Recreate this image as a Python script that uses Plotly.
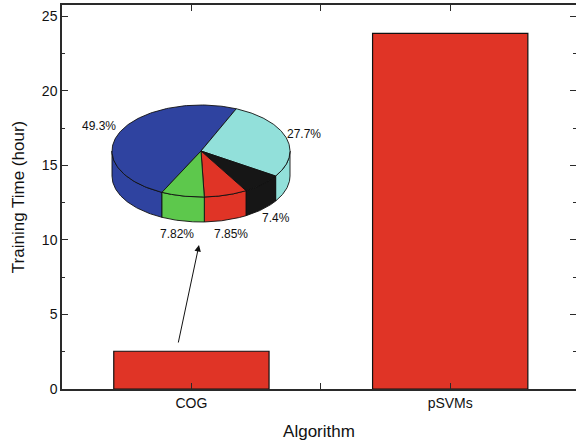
import numpy as np
import plotly.graph_objects as go

# Bar data
categories = ["COG", "pSVMs"]
training_hours = [2.53, 23.85]

# Breakdown of the COG training time (inset pie)
pie_values = [49.3, 27.7, 7.4, 7.85, 7.82]
pie_labels = ["49.3%", "27.7%", "7.4%", "7.85%", "7.82%"]
pie_colors = ["#2f43a0", "#92e0da", "#161616", "#e03426", "#5dc84c"]

BAR_RED = "#e03426"
AXIS_COL = "#2a2a2a"
FONT = "Liberation Sans, Arial, sans-serif"

W, H = 576, 445
ML, MR, MT, MB = 62, 0, 5, 56
Y_RANGE = [0, 25.75]

fig = go.Figure()

fig.add_trace(go.Bar(
    x=list(range(len(categories))), y=training_hours, width=0.6,
    marker=dict(color=BAR_RED, line=dict(color="#111", width=1.2)),
    xaxis="x", yaxis="y", showlegend=False, hoverinfo="skip",
))

# invisible trace so the right-hand tick axis is rendered
fig.add_trace(go.Scatter(x=[0], y=[0], mode="markers", opacity=0, xaxis="x", yaxis="y3",
                         showlegend=False, hoverinfo="skip"))

# ---- 3D inset pie, drawn on a pixel-scaled overlay axis pair ----
cx, cy = 201.0, 151.0      # centre of the top face
ra, rb = 89.0, 46.0        # ellipse semi-axes
depth = 25.0
start_deg = 244.0          # first slice starts here and runs clockwise

total = sum(pie_values)
bounds = [start_deg]
for v in pie_values:
    bounds.append(bounds[-1] - 360.0 * v / total)


def ell(t_deg, dy=0.0):
    t = np.radians(t_deg)
    return cx + ra * np.cos(t), cy - rb * np.sin(t) + dy


edge = dict(color="#111", width=0.9)

# side walls (front half only: angles in [-180, 0] mod 360)
for i, v in enumerate(pie_values):
    a0, a1 = bounds[i], bounds[i + 1]   # a0 > a1
    for k in range(-2, 2):
        lo, hi = -180 + 360 * k, 0 + 360 * k
        s0, s1 = min(a0, hi), max(a1, lo)
        if s0 <= s1:
            continue
        ts = np.linspace(s0, s1, 60)
        xt, yt = ell(ts)
        xb, yb = ell(ts[::-1], depth)
        xs = np.concatenate([xt, xb, xt[:1]])
        ys = np.concatenate([yt, yb, yt[:1]])
        fig.add_trace(go.Scatter(
            x=xs, y=ys, mode="lines", fill="toself", fillcolor=pie_colors[i],
            line=edge, xaxis="x2", yaxis="y2", showlegend=False, hoverinfo="skip",
        ))

# top faces
for i, v in enumerate(pie_values):
    a0, a1 = bounds[i], bounds[i + 1]
    ts = np.linspace(a0, a1, 120)
    xa, ya = ell(ts)
    xs = np.concatenate([[cx], xa, [cx]])
    ys = np.concatenate([[cy], ya, [cy]])
    fig.add_trace(go.Scatter(
        x=xs, y=ys, mode="lines", fill="toself", fillcolor=pie_colors[i],
        line=edge, xaxis="x2", yaxis="y2", showlegend=False, hoverinfo="skip",
    ))

# percentage labels placed outside each slice
label_pos = [(99, 126), (304, 134), (276, 218), (231, 234), (177, 234)]
for (lx, ly), txt in zip(label_pos, pie_labels):
    fig.add_annotation(x=lx, y=ly, xref="x2", yref="y2", text=txt,
                       showarrow=False, font=dict(family=FONT, size=12, color="#111"))

# arrow from the COG bar up to the pie
fig.add_annotation(x=199, y=245, ax=178, ay=344, xref="x2", yref="y2",
                   axref="x2", ayref="y2", text="", showarrow=True,
                   arrowhead=2, arrowsize=1.3, arrowwidth=1, arrowcolor="#111")

tickfont = dict(family=FONT, size=14, color="#111")
fig.update_layout(
    width=W, height=H,
    margin=dict(l=ML, r=MR, t=MT, b=MB),
    paper_bgcolor="white", plot_bgcolor="white",
    font=dict(family=FONT, color="#111"),
    bargap=0.4,
    xaxis=dict(
        range=[-0.5, 1.486], tickvals=list(range(len(categories))), ticktext=categories,
        showgrid=False, zeroline=False, showline=True, linecolor=AXIS_COL, linewidth=1.5,
        mirror="allticks", ticks="inside", ticklen=6, tickwidth=1.2, tickcolor=AXIS_COL,
        minor=dict(tick0=0, dtick=0.5, ticks="inside", ticklen=3, tickwidth=1, tickcolor=AXIS_COL),
        tickfont=tickfont,
        title=dict(text="Algorithm", font=dict(family=FONT, size=17, color="#111"), standoff=16),
    ),
    yaxis=dict(
        range=Y_RANGE, dtick=5, tick0=0,
        showgrid=False, zeroline=False, showline=True, linecolor=AXIS_COL, linewidth=1.5,
        mirror=False, ticks="inside", ticklen=6, tickwidth=1.2, tickcolor=AXIS_COL,
        minor=dict(dtick=2.5, ticks="inside", ticklen=3, tickwidth=1, tickcolor=AXIS_COL),
        tickfont=tickfont,
        title=dict(text="Training Time (hour)", font=dict(family=FONT, size=17, color="#111"), standoff=13),
    ),
    # right-hand ticks only (the frame's right edge lies just outside the page)
    yaxis3=dict(
        range=Y_RANGE, dtick=5, tick0=0, overlaying="y", side="right",
        showgrid=False, zeroline=False, showline=False, showticklabels=False,
        ticks="inside", ticklen=6, tickwidth=1.2, tickcolor=AXIS_COL,
        minor=dict(dtick=2.5, ticks="inside", ticklen=3, tickwidth=1, tickcolor=AXIS_COL),
        fixedrange=True,
    ),
    xaxis2=dict(range=[ML, W - MR], overlaying="x", visible=False, fixedrange=True),
    yaxis2=dict(range=[H - MB, MT], overlaying="y", visible=False, fixedrange=True),
)

fig.write_html("out.html")
